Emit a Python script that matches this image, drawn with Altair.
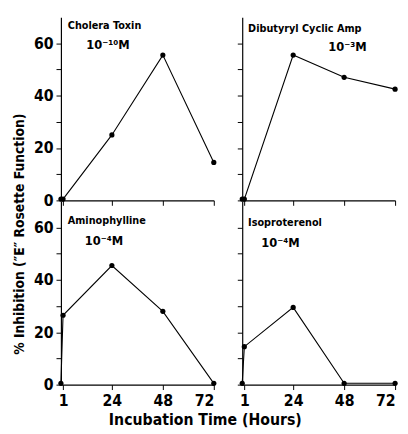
import altair as alt
import pandas as pd

hours = [0, 1, 24, 48, 72]
cholera = [0.5, 0.5, 25, 55.5, 14.5]
dibutyryl = [0.5, 0.5, 55.5, 47, 42.5]
aminophylline = [0.5, 26.5, 45.5, 28, 0.5]
isoproterenol = [0.5, 14.5, 29.5, 0.5, 0.5]

names = ["Cholera Toxin", "Dibutyryl Cyclic Amp", "Aminophylline", "Isoproterenol"]
concs = ["10\u207b\u00b9\u2070M", "10\u207b\u00b3M", "10\u207b\u2074M", "10\u207b\u2074M"]
x_ticks = [1, 24, 48, 72]
y_ticks = [0, 10, 20, 30, 40, 50, 60]
x_title = "Incubation Time (Hours)"
y_title = "% Inhibition (\u2033E\u2033 Rosette Function)"

FONT = "DejaVu Sans Condensed, Liberation Sans Narrow, DejaVu Sans, sans-serif"
W, H = 156, 187


def panel(vals, name, conc, left, bottom, name_pos, conc_pos, conc_align, ytitle=False):
    df = pd.DataFrame({"h": hours, "v": vals})
    x = alt.X(
        "h:Q",
        scale=alt.Scale(domain=[0, 72], nice=False, zero=False),
        axis=alt.Axis(values=x_ticks, labels=bottom, title=None, orient="bottom"),
    )
    if left:
        if ytitle:
            kw = dict(title=y_title, titleX=-42, titleY=33, titleAngle=270, titleAlign="center",
                      titleBaseline="middle", titleFont=FONT, titleFontSize=14,
                      titleFontWeight="bold", titleColor="black")
        else:
            kw = dict(title=None)
        yaxis = alt.Axis(values=y_ticks,
                         labelExpr="datum.value % 20 == 0 ? datum.label : ''", **kw)
    else:
        yaxis = alt.Axis(values=y_ticks, title=None, labels=False)
    y = alt.Y("v:Q", scale=alt.Scale(domain=[0, 70], nice=False), axis=yaxis)
    base = alt.Chart(df)
    line = base.mark_line(color="black", strokeWidth=1.1).encode(x=x, y=y)
    pts = base.mark_point(filled=True, color="black", size=28, opacity=1).encode(x=x, y=y)
    t1 = alt.Chart(pd.DataFrame({"t": [name]})).mark_text(
        align="left", baseline="middle", font=FONT, fontWeight="bold", fontSize=11, color="black"
    ).encode(text="t:N", x=alt.value(name_pos[0]), y=alt.value(name_pos[1]))
    t2 = alt.Chart(pd.DataFrame({"t": [conc]})).mark_text(
        align=conc_align, baseline="middle", font=FONT, fontWeight="bold", fontSize=13, color="black"
    ).encode(text="t:N", x=alt.value(conc_pos[0]), y=alt.value(conc_pos[1]))
    return alt.layer(line, pts, t1, t2).properties(width=W, height=H)


tl = panel(cholera, names[0], concs[0], True, False, (7, 9), (48, 29), "center")
tr = panel(dibutyryl, names[1], concs[1], False, False, (6, 12), (127, 31), "right")
bl = panel(aminophylline, names[2], concs[2], True, True, (7, 20), (44, 41), "center", ytitle=True)
br = panel(isoproterenol, names[3], concs[3], False, True, (6, 22), (39, 43), "center")

chart = alt.concat(tl, tr, bl, br, columns=2, spacing={"row": 1, "column": 29}, bounds="flush").properties(
    title=alt.TitleParams(x_title, orient="bottom", anchor="middle",
                          font=FONT, fontSize=16, fontWeight="bold", offset=4, color="black"),
    padding={"left": 4, "top": 5, "right": 2, "bottom": 0},
).configure_view(stroke=None).configure_axis(
    grid=False, domainColor="black", tickColor="black", tickSize=5, domainWidth=1.2,
    labelFont=FONT, labelFontSize=16, labelFontWeight="bold", labelColor="black", labelPadding=3,
)

chart.save("out.html", embed_options={"renderer": "svg", "actions": False})
